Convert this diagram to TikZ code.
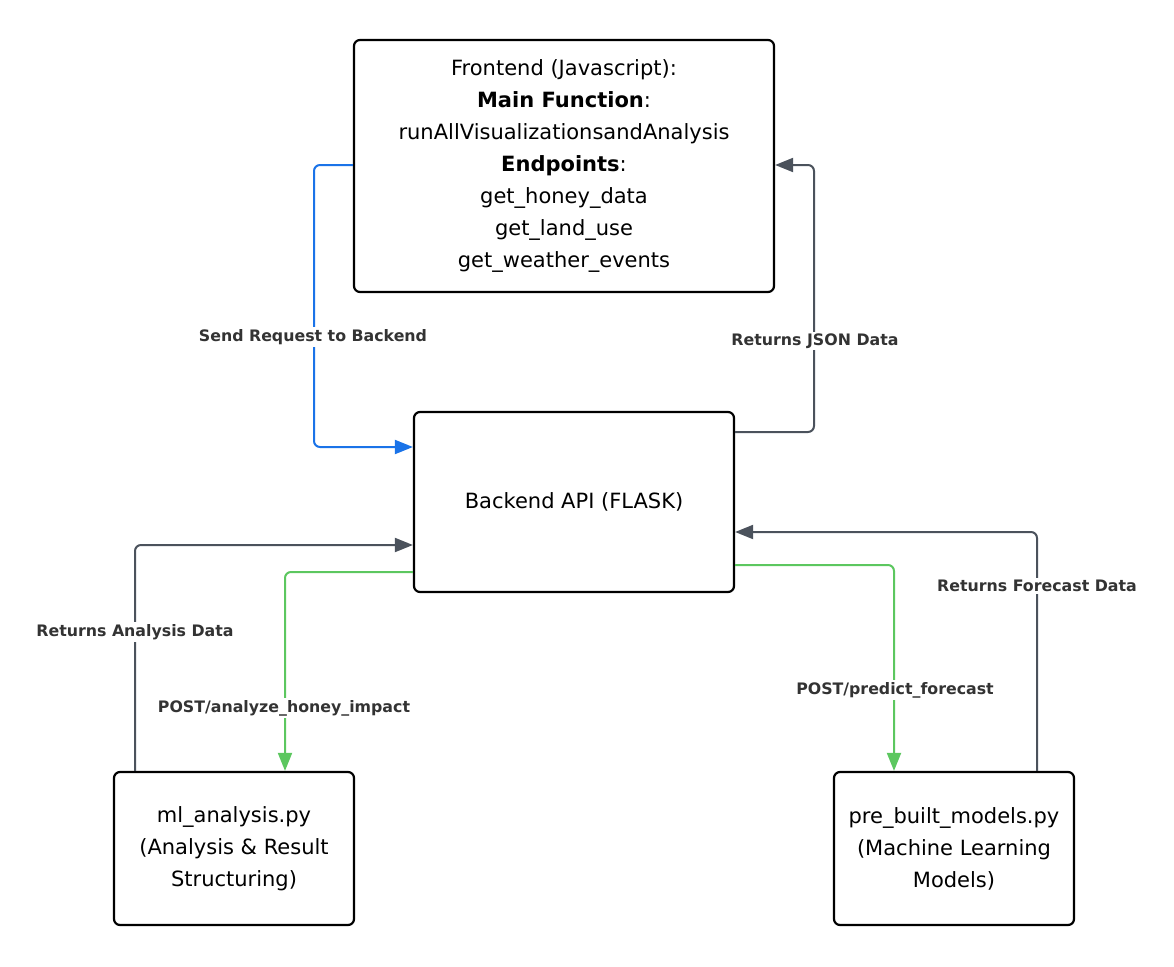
\documentclass[tikz,border=0pt]{standalone}
\usepackage{fontspec}
\setmainfont{DejaVu Sans}
\usetikzlibrary{arrows.meta}
\definecolor{cblue}{HTML}{1A73E8}
\definecolor{cgray}{HTML}{4B525C}
\definecolor{cgreen}{HTML}{5CC75F}
\definecolor{ctext}{HTML}{333333}
\tikzset{
  box/.style={draw=black, line width=2.2pt, rounded corners=6pt, inner sep=0pt, align=center, font=\fontsize{21}{32}\selectfont},
  conn/.style={line width=2pt, rounded corners=6pt, -{Triangle[length=18pt,width=14pt]}},
  lbl/.style={fill=white, text=ctext, font=\bfseries\fontsize{15.8}{19}\selectfont, inner sep=2pt}
}
\begin{document}
\begin{tikzpicture}[x=1pt,y=-1pt]
\useasboundingbox (0,0) rectangle (1174,966);
\node[box, minimum width=420pt, minimum height=252pt] (fe) at (564,166)
  {Frontend (Javascript):\\ \textbf{Main Function}:\\ runAllVisualizationsandAnalysis\\ \textbf{Endpoints}:\\ get\_honey\_data\\ get\_land\_use\\ get\_weather\_events};
\node[box, minimum width=320pt, minimum height=180pt] (be) at (574,502) {Backend API (FLASK)};
\node[box, minimum width=240pt, minimum height=153pt] (ml) at (234,848.5) {ml\_analysis.py\\ (Analysis \& Result\\ Structuring)};
\node[box, minimum width=240pt, minimum height=153pt] (pb) at (954,848.5) {pre\_built\_models.py\\ (Machine Learning\\ Models)};

\coordinate (feL) at (fe.west |- 0,165);
\coordinate (feR) at (fe.east |- 0,165);
\coordinate (beL1) at (be.west |- 0,447);
\coordinate (beR1) at (be.east |- 0,432);
\coordinate (beL2) at (be.west |- 0,545);
\coordinate (beL3) at (be.west |- 0,572);
\coordinate (beR2) at (be.east |- 0,532);
\coordinate (beR3) at (be.east |- 0,565);
\coordinate (mlT1) at (ml.north -| 135,0);
\coordinate (mlT2) at (ml.north -| 285,0);
\coordinate (pbT1) at (pb.north -| 894,0);
\coordinate (pbT2) at (pb.north -| 1037,0);

\draw[conn, cblue] (feL) -| (314,300) |- (beL1);
\node[lbl] at (313,337) {Send Request to Backend};

\draw[conn, cgray] (beR1) -| (814,300) |- (feR);
\node[lbl] at (815,341) {Returns JSON Data};

\draw[conn, cgray] (mlT1) |- (beL2);
\node[lbl] at (135,632) {Returns Analysis Data};

\draw[conn, cgreen] (beL3) -| (mlT2);
\node[lbl] at (284,708) {POST/analyze\_honey\_impact};

\draw[conn, cgreen] (beR3) -| (pbT1);
\node[lbl] at (895,690) {POST/predict\_forecast};

\draw[conn, cgray] (pbT2) |- (beR2);
\node[lbl] at (1037,586) {Returns Forecast Data};
\end{tikzpicture}
\end{document}
